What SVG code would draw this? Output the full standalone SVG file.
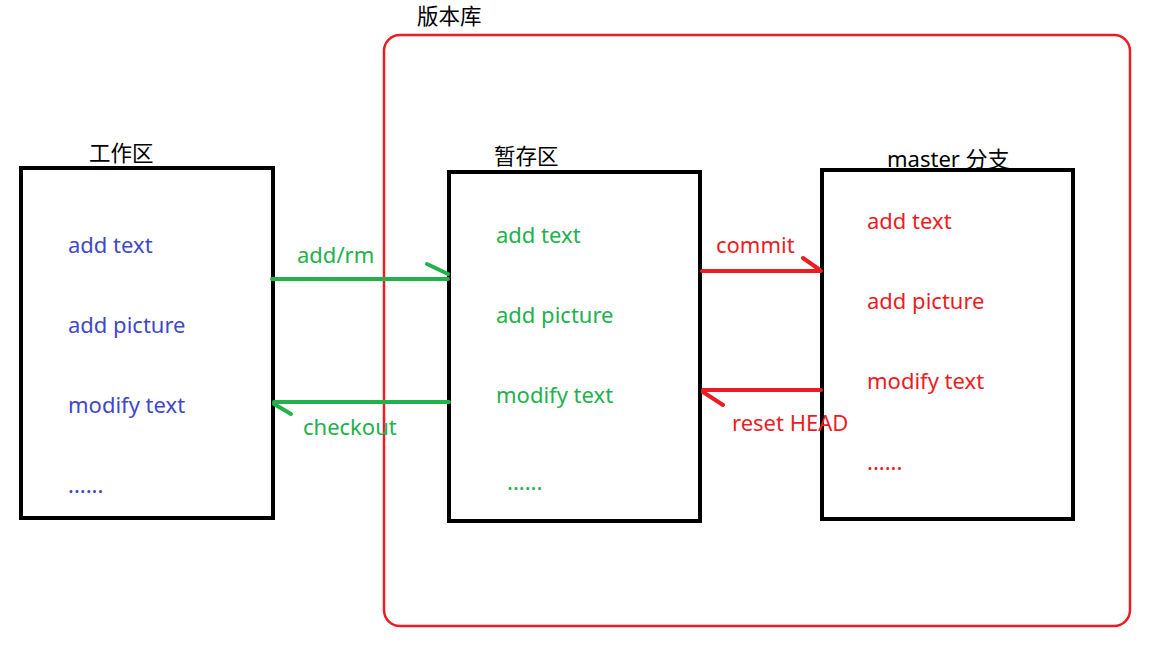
<svg xmlns="http://www.w3.org/2000/svg" width="1159" height="653" viewBox="0 0 1159 653">
<style>
text{font-family:"Noto Sans","Noto Sans CJK SC",sans-serif;font-size:22px}
.box{fill:#fff;stroke:#000;stroke-width:4}
.lbl{fill:#000;font-size:21.5px}
.b{fill:#3f48cc}
.g{fill:#22b14c}
.r{fill:#ed1c24}
.ga{stroke:#22b14c;stroke-width:4;fill:none;stroke-linecap:round}
.ra{stroke:#ed1c24;stroke-width:4;fill:none;stroke-linecap:round}
</style>
<rect width="1159" height="653" fill="#fff"/>
<g id="repo">
<rect x="384" y="35" width="746" height="591" rx="16" fill="none" stroke="#ed1c24" stroke-width="2.5"/>
<text class="lbl" x="417" y="24">版本库</text>
</g>
<g id="workspace">
<rect class="box" x="21" y="168" width="252" height="350"/>
<text class="lbl" x="89" y="161">工作区</text>
<text class="b" x="68" y="253">add text</text>
<text class="b" x="68" y="333">add picture</text>
<text class="b" x="68" y="413">modify text</text>
<text class="b" x="68" y="493">......</text>
</g>
<g id="stage">
<rect class="box" x="449" y="172" width="251" height="349"/>
<text class="lbl" x="494" y="164">暂存区</text>
<text class="g" x="496" y="243">add text</text>
<text class="g" x="496" y="323">add picture</text>
<text class="g" x="496" y="403">modify text</text>
<text class="g" x="507" y="490">......</text>
</g>
<g id="master">
<rect class="box" x="822" y="170" width="251" height="349"/>
<text class="lbl" x="887" y="167" style="font-size:22px">master 分支</text>
<text class="r" x="867" y="229">add text</text>
<text class="r" x="867" y="309">add picture</text>
<text class="r" x="867" y="389">modify text</text>
<text class="r" x="867" y="470">......</text>
</g>
<g id="connectors">
<path class="ga" d="M272 279H448M427 264L448 274"/>
<text class="g" x="297" y="263">add/rm</text>
<path class="ga" d="M449 402H274M274 404L291 414"/>
<text class="g" x="303" y="435">checkout</text>
<path class="ra" d="M702 271H821M803 258L820 270"/>
<text class="r" x="716" y="253">commit</text>
<path class="ra" d="M821 390H703M703 392L723 405"/>
<text class="r" x="732" y="431">reset HEAD</text>
</g>
</svg>
